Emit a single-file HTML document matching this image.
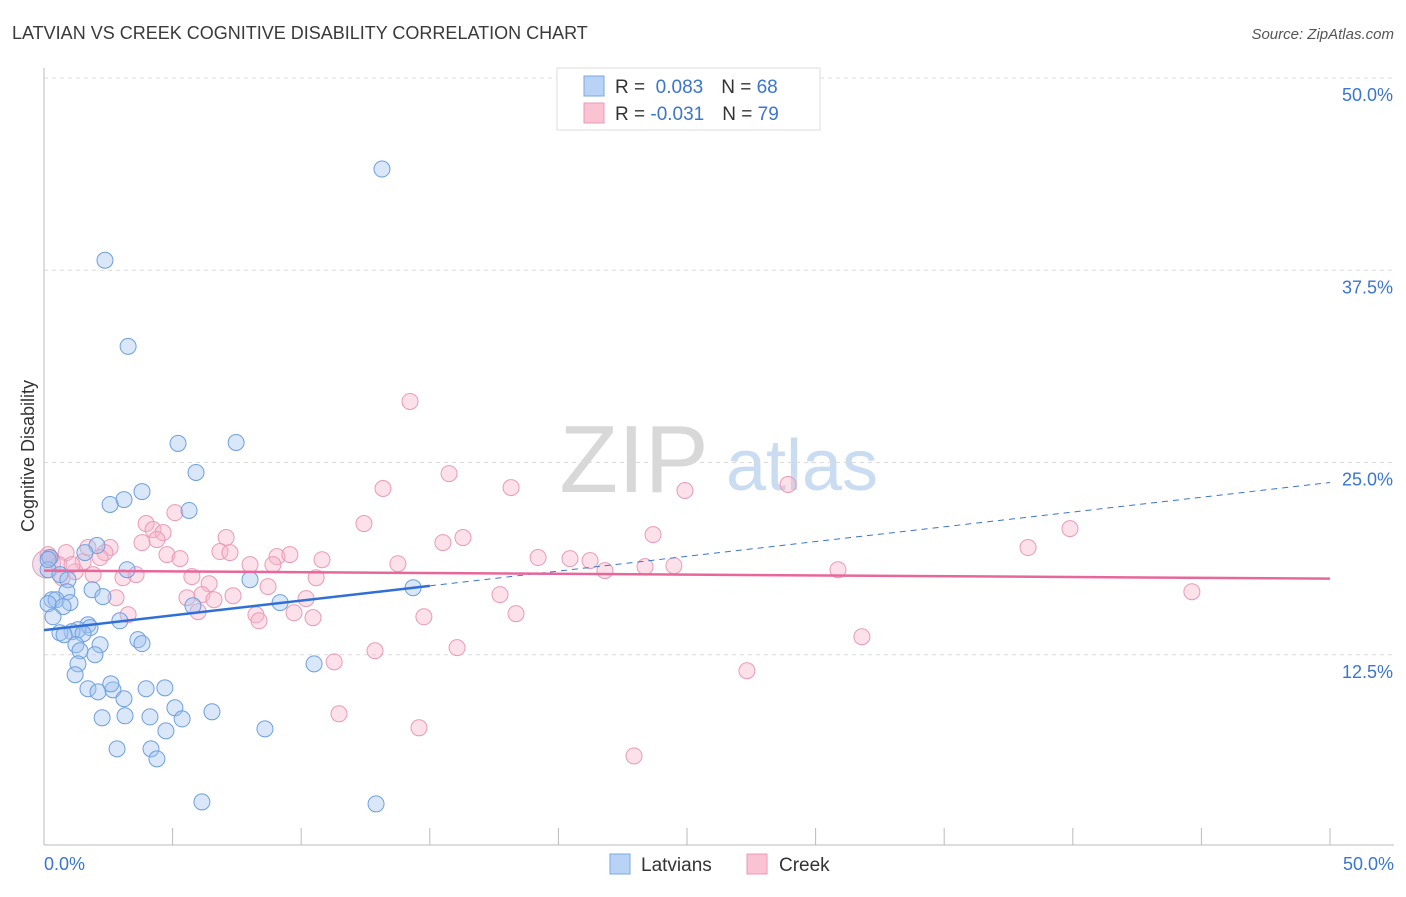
<!DOCTYPE html>
<html><head><meta charset="utf-8"><style>
body{margin:0;background:#fff;font-family:"Liberation Sans",sans-serif;}
svg text{font-family:"Liberation Sans",sans-serif;}
</style></head><body>
<svg id="chart" width="1406" height="892" viewBox="0 0 1406 892">
<text x="12" y="39" font-size="18" fill="#3a3a3a">LATVIAN VS CREEK COGNITIVE DISABILITY CORRELATION CHART</text>
<text x="1394" y="39" font-size="15" fill="#555" text-anchor="end" font-style="italic">Source: ZipAtlas.com</text>
<text x="634" y="492" font-size="96" fill="#d8d8d8" font-family="Liberation Serif" text-anchor="middle">ZIP</text>
<text x="802" y="490" font-size="72" fill="#c9dcf2" text-anchor="middle">atlas</text>
<g id="grid"></g>
<g id="axes"></g>
<g id="marks"></g>
<text transform="translate(34,456) rotate(-90)" font-size="18" fill="#333" text-anchor="middle">Cognitive Disability</text>
<text x="44" y="870" font-size="18" fill="#3a75d0">0.0%</text>
<text x="1394" y="870" font-size="18" fill="#3a75d0" text-anchor="end">50.0%</text>
<g>
<rect x="557" y="68" width="263" height="62" fill="#fff" stroke="#ddd"/>
<rect x="584" y="76" width="20" height="20" fill="#b8d3f5" stroke="#7aa7e3"/>
<rect x="584" y="103" width="20" height="20" fill="#f9c3d3" stroke="#ee9ab6"/>
<text x="615" y="93" font-size="19" fill="#333">R = <tspan fill="#3a75d0">&#160;0.083</tspan><tspan dx="18">N = </tspan><tspan fill="#3a75d0">68</tspan></text>
<text x="615" y="120" font-size="19" fill="#333">R = <tspan fill="#3a75d0">-0.031</tspan><tspan dx="18">N = </tspan><tspan fill="#3a75d0">79</tspan></text>
</g>
<g>
<rect x="610" y="854" width="20" height="20" fill="#b8d3f5" stroke="#7aa7e3"/>
<text x="641" y="871" font-size="19" fill="#333">Latvians</text>
<rect x="747" y="854" width="20" height="20" fill="#f9c3d3" stroke="#ee9ab6"/>
<text x="779" y="871" font-size="19" fill="#333">Creek</text>
</g>
</svg>
<script>
const yTicks=[12.5,25,37.5,50];
const yTickLabels=["12.5%","25.0%","37.5%","50.0%"];
const xTicks=[0,5,10,15,20,25,30,35,40,45,50];
const blueX=[13.14,2.37,3.27,5.21,7.47,5.91,3.81,3.11,2.57,5.64,2.06,1.59,0.23,0.16,0.62,0.93,8.01,3.23,1.87,0.89,2.29,0.31,0.47,1.01,0.16,0.74,9.18,5.79,14.35,0.35,2.95,1.71,1.79,1.32,1.09,0.62,0.78,1.52,3.65,3.81,1.24,2.18,1.40,1.98,1.32,10.50,1.21,1.71,2.10,2.68,2.60,3.97,4.70,3.11,5.09,6.53,2.26,3.15,4.12,5.37,4.74,8.59,2.84,4.16,4.39,6.14,12.91,0.16];
const blueY=[44.08,38.15,32.55,26.24,26.30,24.35,23.11,22.59,22.27,21.88,19.60,19.14,18.82,18.03,17.71,17.38,17.38,18.03,16.73,16.60,16.28,16.08,16.08,15.89,15.82,15.63,15.89,15.69,16.86,14.97,14.71,14.45,14.26,14.13,14.00,13.93,13.80,13.87,13.48,13.22,13.15,13.15,12.76,12.50,11.91,11.91,11.20,10.29,10.09,10.22,10.61,10.29,10.35,9.64,9.05,8.79,8.40,8.53,8.46,8.33,7.55,7.68,6.38,6.38,5.73,2.93,2.80,18.69];
const pinkX=[14.23,15.75,13.18,18.16,24.92,28.93,5.09,12.44,39.89,3.97,4.24,4.63,3.81,4.39,7.08,16.29,15.51,23.68,38.26,2.57,2.37,0.86,0.23,0.58,1.52,2.18,4.78,6.84,7.23,5.29,9.06,9.56,10.81,19.21,20.45,21.23,23.37,24.49,30.87,8.01,8.90,13.76,21.81,1.21,1.91,3.07,3.58,5.75,10.58,0.70,6.42,8.71,7.35,17.73,2.80,5.56,6.14,6.61,10.19,44.63,3.27,5.99,8.24,8.36,9.72,10.46,14.77,18.35,31.80,12.87,16.06,11.28,27.33,11.47,14.58,22.94,0.16,1.71,1.09];
const pinkY=[28.97,24.28,23.31,23.37,23.18,23.57,21.74,21.03,20.70,21.03,20.64,20.44,19.79,19.99,20.12,20.12,19.79,20.31,19.47,19.47,19.14,19.14,18.82,18.36,18.55,18.82,19.01,19.21,19.14,18.75,18.88,19.01,18.68,18.82,18.75,18.62,18.23,18.29,18.03,18.36,18.36,18.42,17.97,17.90,17.71,17.51,17.71,17.58,17.51,17.51,17.12,16.93,16.34,16.41,16.21,16.21,16.41,16.08,16.15,16.60,15.10,15.30,15.10,14.71,15.23,14.91,14.97,15.17,13.67,12.76,12.96,12.04,11.46,8.66,7.75,5.92,19.01,19.47,18.36];
const blueTrend=[14.1,23.7];
const pinkTrend=[17.97,17.45];
const blueSolidEnd=15;

const NS="http://www.w3.org/2000/svg";
const X0=44,X1=1330,Y0=847,YTOP=78;
function sx(v){return X0+(v/50)*(X1-X0);}
function sy(v){return Y0-(v/50)*(Y0-YTOP);}
function mk(tag,attrs,parent){const e=document.createElementNS(NS,tag);for(const k in attrs)e.setAttribute(k,attrs[k]);parent.appendChild(e);return e;}
const grid=document.getElementById('grid'),axes=document.getElementById('axes'),marks=document.getElementById('marks');
yTicks.forEach((t,i)=>{
  const l=mk('line',{x1:X0,x2:1394,y1:sy(t),y2:sy(t),stroke:'#dcdcdc','stroke-dasharray':'4,4'},grid);
  
  
  const tx=mk('text',{x:1393,y:sy(t)+23,'font-size':18,fill:'#3a75d0','text-anchor':'end'},grid);
  tx.textContent=yTickLabels[i];
  
  
});
const xa=mk('line',{x1:X0,x2:1394,y1:845,y2:845,stroke:'#bbb'},axes);


const ya=mk('line',{x1:X0,x2:X0,y1:68,y2:845,stroke:'#bbb'},axes);


xTicks.forEach(t=>{
  const l=mk('line',{x1:sx(t),x2:sx(t),y1:828,y2:845,stroke:'#bbb'},axes);
  
  
});
const big=mk('circle',{cx:sx(0.1),cy:sy(18.4),r:14,fill:'rgba(230,180,210,0.45)',stroke:'#d6a6c6'},marks);


pinkX.forEach((x,i)=>{
  const c=mk('circle',{cx:sx(x),cy:sy(pinkY[i]),r:8,fill:'rgba(248,180,202,0.4)',stroke:'#ec9ab5','stroke-width':1},marks);
  
  
});
blueX.forEach((x,i)=>{
  const c=mk('circle',{cx:sx(x),cy:sy(blueY[i]),r:8,fill:'rgba(160,195,240,0.4)',stroke:'#6e9fe0','stroke-width':1},marks);
  
  
});
function bt(x){return blueTrend[0]+(blueTrend[1]-blueTrend[0])*x/50;}
const bd=mk('line',{x1:sx(blueSolidEnd),y1:sy(bt(blueSolidEnd)),x2:sx(50),y2:sy(bt(50)),stroke:'#3a75d0','stroke-width':1,'stroke-dasharray':'6,5'},marks);


const bs=mk('line',{x1:sx(0),y1:sy(bt(0)),x2:sx(blueSolidEnd),y2:sy(bt(blueSolidEnd)),stroke:'#2f6fd6','stroke-width':2.5},marks);


const pt=mk('line',{x1:sx(0),y1:sy(pinkTrend[0]),x2:sx(50),y2:sy(pinkTrend[1]),stroke:'#e8679a','stroke-width':2.5},marks);


</script>
</body></html>
